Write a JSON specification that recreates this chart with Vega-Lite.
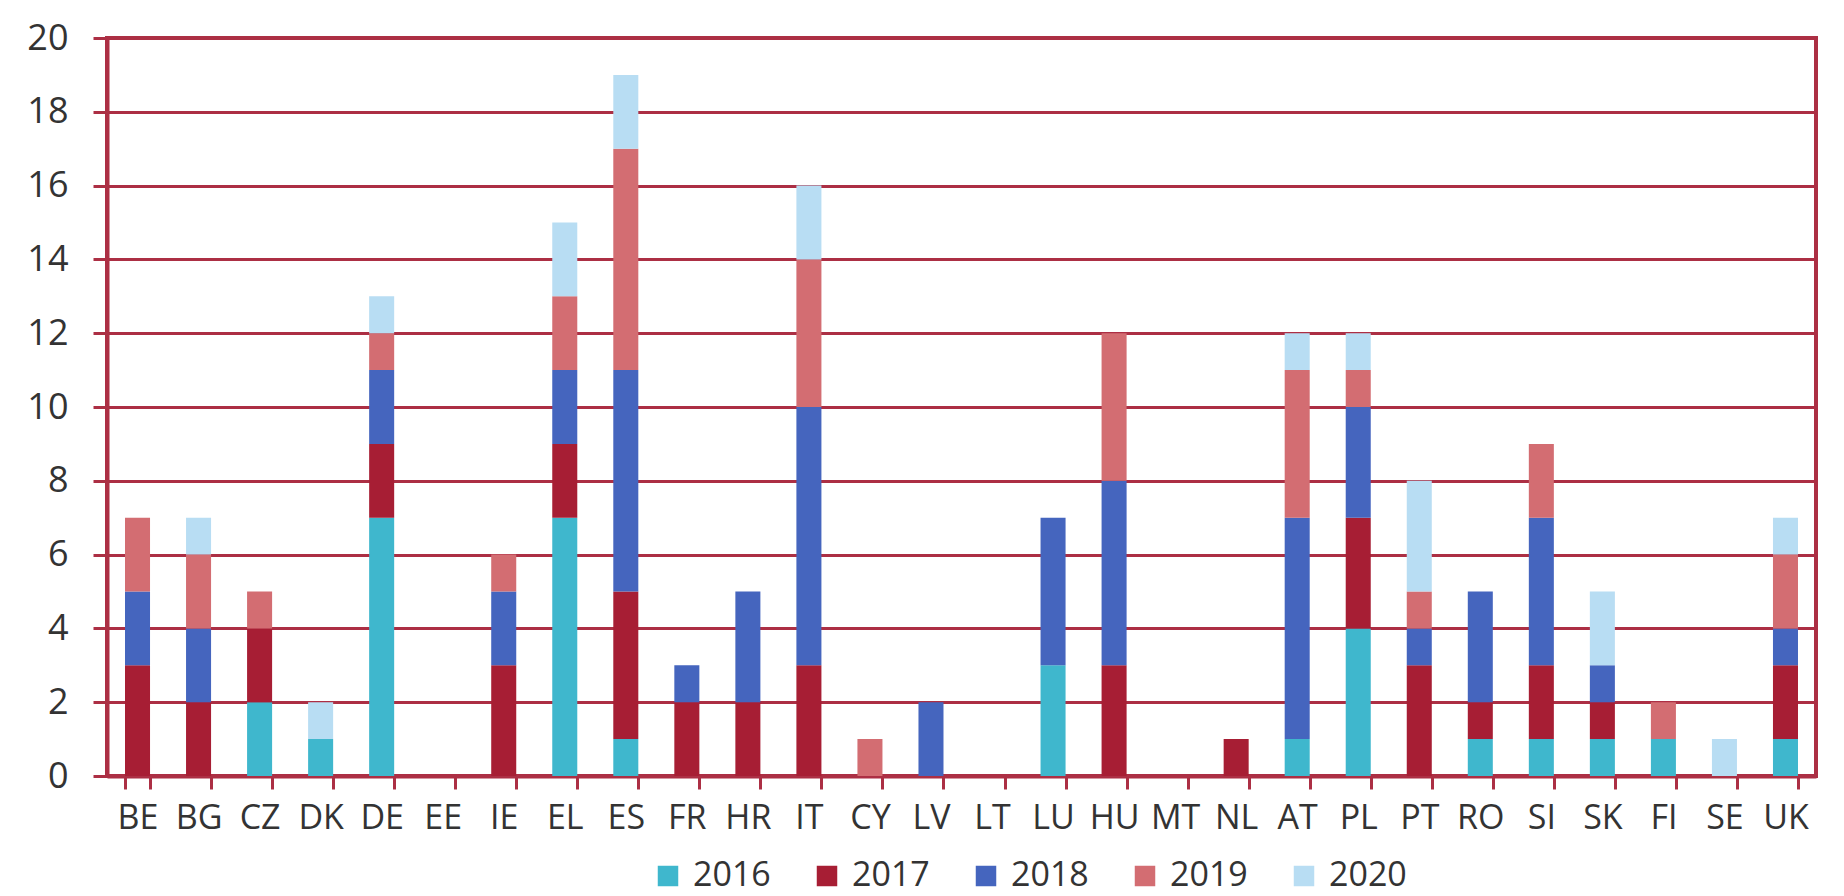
{
  "$schema": "https://vega.github.io/schema/vega-lite/v6.json",
  "width": 1709,
  "height": 738,
  "autosize": {"type": "none"},
  "padding": {"left": 107, "top": 38, "right": 28, "bottom": 120},
  "config": {
    "font": "Open Sans",
    "view": {"stroke": "#AC2F44", "strokeWidth": 4}
  },
  "data": {
    "values": [
      {"country": "BE", "year": "2017", "count": 3},
      {"country": "BE", "year": "2018", "count": 2},
      {"country": "BE", "year": "2019", "count": 2},
      {"country": "BG", "year": "2017", "count": 2},
      {"country": "BG", "year": "2018", "count": 2},
      {"country": "BG", "year": "2019", "count": 2},
      {"country": "BG", "year": "2020", "count": 1},
      {"country": "CZ", "year": "2016", "count": 2},
      {"country": "CZ", "year": "2017", "count": 2},
      {"country": "CZ", "year": "2019", "count": 1},
      {"country": "DK", "year": "2016", "count": 1},
      {"country": "DK", "year": "2020", "count": 1},
      {"country": "DE", "year": "2016", "count": 7},
      {"country": "DE", "year": "2017", "count": 2},
      {"country": "DE", "year": "2018", "count": 2},
      {"country": "DE", "year": "2019", "count": 1},
      {"country": "DE", "year": "2020", "count": 1},
      {"country": "IE", "year": "2017", "count": 3},
      {"country": "IE", "year": "2018", "count": 2},
      {"country": "IE", "year": "2019", "count": 1},
      {"country": "EL", "year": "2016", "count": 7},
      {"country": "EL", "year": "2017", "count": 2},
      {"country": "EL", "year": "2018", "count": 2},
      {"country": "EL", "year": "2019", "count": 2},
      {"country": "EL", "year": "2020", "count": 2},
      {"country": "ES", "year": "2016", "count": 1},
      {"country": "ES", "year": "2017", "count": 4},
      {"country": "ES", "year": "2018", "count": 6},
      {"country": "ES", "year": "2019", "count": 6},
      {"country": "ES", "year": "2020", "count": 2},
      {"country": "FR", "year": "2017", "count": 2},
      {"country": "FR", "year": "2018", "count": 1},
      {"country": "HR", "year": "2017", "count": 2},
      {"country": "HR", "year": "2018", "count": 3},
      {"country": "IT", "year": "2017", "count": 3},
      {"country": "IT", "year": "2018", "count": 7},
      {"country": "IT", "year": "2019", "count": 4},
      {"country": "IT", "year": "2020", "count": 2},
      {"country": "CY", "year": "2019", "count": 1},
      {"country": "LV", "year": "2018", "count": 2},
      {"country": "LU", "year": "2016", "count": 3},
      {"country": "LU", "year": "2018", "count": 4},
      {"country": "HU", "year": "2017", "count": 3},
      {"country": "HU", "year": "2018", "count": 5},
      {"country": "HU", "year": "2019", "count": 4},
      {"country": "NL", "year": "2017", "count": 1},
      {"country": "AT", "year": "2016", "count": 1},
      {"country": "AT", "year": "2018", "count": 6},
      {"country": "AT", "year": "2019", "count": 4},
      {"country": "AT", "year": "2020", "count": 1},
      {"country": "PL", "year": "2016", "count": 4},
      {"country": "PL", "year": "2017", "count": 3},
      {"country": "PL", "year": "2018", "count": 3},
      {"country": "PL", "year": "2019", "count": 1},
      {"country": "PL", "year": "2020", "count": 1},
      {"country": "PT", "year": "2017", "count": 3},
      {"country": "PT", "year": "2018", "count": 1},
      {"country": "PT", "year": "2019", "count": 1},
      {"country": "PT", "year": "2020", "count": 3},
      {"country": "RO", "year": "2016", "count": 1},
      {"country": "RO", "year": "2017", "count": 1},
      {"country": "RO", "year": "2018", "count": 3},
      {"country": "SI", "year": "2016", "count": 1},
      {"country": "SI", "year": "2017", "count": 2},
      {"country": "SI", "year": "2018", "count": 4},
      {"country": "SI", "year": "2019", "count": 2},
      {"country": "SK", "year": "2016", "count": 1},
      {"country": "SK", "year": "2017", "count": 1},
      {"country": "SK", "year": "2018", "count": 1},
      {"country": "SK", "year": "2020", "count": 2},
      {"country": "FI", "year": "2016", "count": 1},
      {"country": "FI", "year": "2019", "count": 1},
      {"country": "SE", "year": "2020", "count": 1},
      {"country": "UK", "year": "2016", "count": 1},
      {"country": "UK", "year": "2017", "count": 2},
      {"country": "UK", "year": "2018", "count": 1},
      {"country": "UK", "year": "2019", "count": 2},
      {"country": "UK", "year": "2020", "count": 1}
    ]
  },
  "mark": {"type": "bar"},
  "encoding": {
    "x": {
      "field": "country",
      "type": "nominal",
      "sort": null,
      "scale": {
        "domain": ["BE", "BG", "CZ", "DK", "DE", "EE", "IE", "EL", "ES", "FR", "HR", "IT", "CY", "LV", "LT", "LU", "HU", "MT", "NL", "AT", "PL", "PT", "RO", "SI", "SK", "FI", "SE", "UK"],
        "paddingInner": 0.59,
        "paddingOuter": 0.295
      },
      "axis": {
        "title": null,
        "labelAngle": 0,
        "tickBand": "extent",
        "grid": false,
        "domainColor": "#AC2F44",
        "domainWidth": 4,
        "tickColor": "#AC2F44",
        "tickWidth": 3,
        "tickSize": 13,
        "labelFontSize": 34,
        "labelColor": "#333333",
        "labelPadding": 12
      }
    },
    "y": {
      "field": "count",
      "type": "quantitative",
      "stack": "zero",
      "scale": {"domain": [0, 20], "nice": false},
      "axis": {
        "title": null,
        "values": [0, 2, 4, 6, 8, 10, 12, 14, 16, 18, 20],
        "grid": true,
        "gridColor": "#AC2F44",
        "gridWidth": 3,
        "gridOpacity": 1,
        "domainColor": "#AC2F44",
        "domainWidth": 4,
        "tickColor": "#AC2F44",
        "tickWidth": 3,
        "tickSize": 14,
        "labelFontSize": 36,
        "labelColor": "#333333",
        "labelPadding": 25
      }
    },
    "color": {
      "field": "year",
      "type": "nominal",
      "scale": {
        "domain": ["2016", "2017", "2018", "2019", "2020"],
        "range": ["#3FB7CD", "#A71E34", "#4565BE", "#D36D72", "#B8DDF3"]
      },
      "legend": {
        "title": null,
        "orient": "none",
        "legendX": 544,
        "legendY": 821,
        "direction": "horizontal",
        "columns": 5,
        "columnPadding": 39,
        "symbolType": "square",
        "symbolSize": 420,
        "symbolStrokeWidth": 0,
        "labelFontSize": 34,
        "labelColor": "#333333",
        "labelOffset": 8
      }
    },
    "order": {"field": "year", "type": "ordinal", "sort": "ascending"}
  }
}
